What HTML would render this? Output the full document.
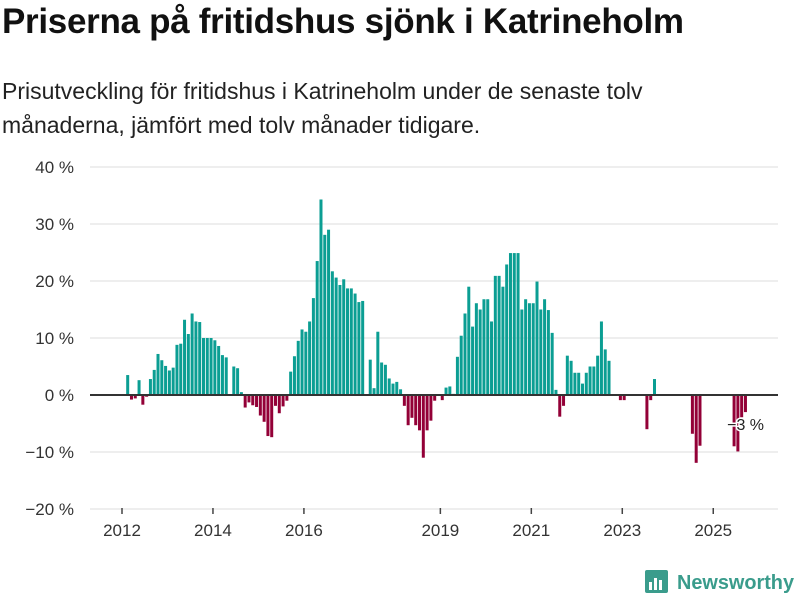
<!DOCTYPE html>
<html><head><meta charset="utf-8">
<style>
body{margin:0;background:#fff;width:800px;height:600px;overflow:hidden;font-family:"Liberation Sans","DejaVu Sans",sans-serif;}
#title{position:absolute;left:2px;top:2px;font-size:35px;font-weight:bold;color:#111;letter-spacing:-0.3px;white-space:nowrap;}
#sub{position:absolute;left:2px;top:74px;font-size:23px;line-height:34px;color:#222;width:700px;}
svg{position:absolute;left:0;top:0;}
</style></head><body>
<div id="title">Priserna på fritidshus sjönk i Katrineholm</div>
<div id="sub">Prisutveckling för fritidshus i Katrineholm under de senaste tolv månaderna, jämfört med tolv månader tidigare.</div>
<svg id="chart" width="800" height="600"></svg>
<script>
const startYear = 2012;
const values = [0,
3.5,-0.8,-0.6,2.6,-1.7,-0.3,2.8,4.4,7.2,6.1,5.1,4.3,4.8,8.8,9.0,13.2,10.7,14.3,12.9,12.8,10.0,10.0,10.0,9.6,8.6,7.0,6.6,0,5.0,4.7,0.5,-2.2,-1.3,-1.8,-2.1,-3.6,-4.7,-7.2,-7.4,-1.9,-3.2,-2.0,-1.0,
4.1,6.8,9.5,11.5,11.1,12.9,17.0,23.5,34.3,28.1,29.0,21.7,20.6,19.3,20.3,18.7,18.7,17.8,16.3,16.5,0,6.2,1.2,11.1,5.7,5.3,2.9,2.0,2.3,1.0,-1.9,-5.3,-4.0,-5.3,-6.2,-11.0,-6.2,-4.5,-1.0,0,-0.9,1.3,1.5,0.2,
6.7,10.4,14.3,19.0,12.0,16.1,15.0,16.8,16.8,12.9,20.9,20.9,19.0,22.9,24.9,24.9,24.9,15.0,16.8,16.1,16.1,19.9,15.0,16.8,14.9,10.9,0.9,-3.8,-1.9,6.9,6.0,3.9,3.9,2.0,3.9,5.0,5.0,6.9,12.9,8.0,6.0,
0,0,-0.9,-0.9,0,0,0,0,0,-6.0,-0.9,2.8,0,0,0,0,0,0,0,0,0,-6.8,-11.9,-8.9,0,0,0,0,0,0,0,0,-9.0,-9.9,-3.9,-3.0];
const yTicks = [40,30,20,10,0,-10,-20];
const yTickLabels = ["40 %","30 %","20 %","10 %","0 %","\u221210 %","\u221220 %"];
const xTickYears = [2012,2014,2016,2019,2021,2023,2025];
const lastLabel = "\u22123 %";

const NS="http://www.w3.org/2000/svg";
const svg=document.getElementById('chart');
const y = v => 395 - v*5.7;
const x = m => 122 + m*3.79;
function mk(t,a){const e=document.createElementNS(NS,t);for(const k in a)e.setAttribute(k,a[k]);svg.appendChild(e);return e;}
yTicks.forEach((t,i)=>{
  if(t!==0){const g=mk('line',{x1:90,x2:778,y1:y(t),y2:y(t),stroke:'#ddd','stroke-width':1});
  
  }
  const l=mk('text',{x:74,y:y(t)+6,'text-anchor':'end','font-size':17,fill:'#333'});
  l.textContent=yTickLabels[i];
  
  
});
xTickYears.forEach(yr=>{
  const xx=x((yr-startYear)*12);
  const t=mk('line',{x1:xx,x2:xx,y1:508,y2:514,stroke:'#444','stroke-width':1.5});
  
  
  const l=mk('text',{x:xx,y:536,'text-anchor':'middle','font-size':17,fill:'#333'});
  l.textContent=yr;
  
  
});
values.forEach((v,i)=>{
  if(!v)return;
  const top=v>0?y(v):y(0);
  const b=mk('rect',{x:x(i)+0.4,y:top,width:3,height:Math.abs(y(v)-y(0)),fill:v>0?'#0b9e93':'#930037'});
  
  
});
const z=mk('line',{x1:90,x2:778,y1:y(0),y2:y(0),stroke:'#333','stroke-width':2});


const li=values.length-1;
const lb=mk('text',{x:x(li)+2,y:y(-6)+1,'text-anchor':'middle','font-size':16,fill:'#222',stroke:'#fff','stroke-width':3,'paint-order':'stroke'});
lb.textContent=lastLabel;


</script>
<svg width="800" height="600" style="pointer-events:none">
<g>
<rect x="645" y="570" width="23" height="23" rx="2" fill="#3a9c8c"/>
<rect x="649" y="582" width="3" height="8" fill="#fff"/>
<rect x="654" y="578" width="3" height="12" fill="#fff"/>
<rect x="659" y="580" width="3" height="10" fill="#fff"/>
<text x="677" y="589" font-size="20" font-weight="bold" fill="#3a9c8c" textLength="117" lengthAdjust="spacingAndGlyphs">Newsworthy</text>
</g>
</svg>
</body></html>
